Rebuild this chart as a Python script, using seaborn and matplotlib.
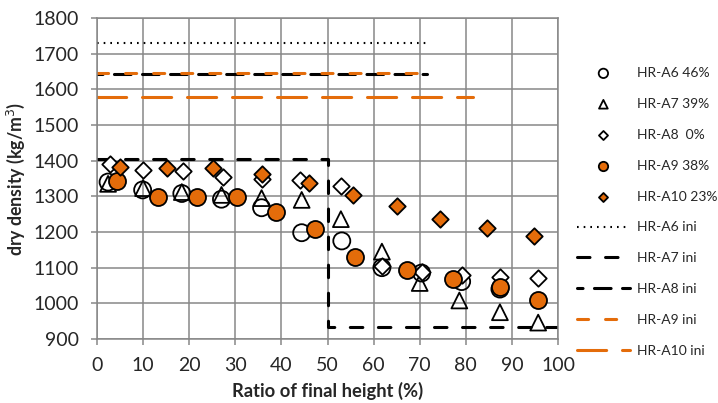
import matplotlib
matplotlib.use("Agg")
import matplotlib.pyplot as plt
import seaborn as sns
import pandas as pd

# ---- data ----
a6_x = [2.4, 9.9, 18.4, 27.0, 35.7, 44.4, 53.1, 61.8, 70.4, 79.1, 87.4]
a6_y = [1340, 1318, 1308, 1292, 1268, 1198, 1175, 1100, 1085, 1061, 1040]

a7_x = [2.4, 10.0, 18.4, 27.0, 35.7, 44.4, 52.9, 61.8, 70.0, 78.6, 87.4, 95.7]
a7_y = [1335, 1323, 1312, 1304, 1295, 1290, 1236, 1145, 1057, 1008, 975, 946]

a8_x = [2.8, 10.0, 18.7, 27.4, 35.7, 44.0, 52.9, 61.8, 70.4, 79.1, 87.4, 95.7]
a8_y = [1392, 1374, 1370, 1355, 1350, 1346, 1330, 1106, 1087, 1079, 1075, 1072]

a9_x = [4.3, 13.3, 21.6, 30.3, 38.8, 47.3, 56.0, 67.3, 77.2, 87.4, 95.7]
a9_y = [1342, 1298, 1299, 1299, 1255, 1208, 1130, 1094, 1069, 1046, 1008]

a10_x = [5.0, 15.1, 25.2, 35.7, 46.0, 55.6, 65.0, 74.3, 84.5, 94.8]
a10_y = [1382, 1379, 1379, 1364, 1337, 1304, 1273, 1237, 1210, 1190]

a6ini_x = [0, 71.5]
a6ini_y = [1730, 1730]
a7ini_x = [0, 50, 50, 100]
a7ini_y = [1405, 1405, 935, 935]
a8ini_x = [0, 71.5]
a8ini_y = [1642, 1642]
a9ini_x = [0, 71.0]
a9ini_y = [1646, 1646]
a10ini_x = [0, 81.5]
a10ini_y = [1578, 1578]

x_ticks = [0, 10, 20, 30, 40, 50, 60, 70, 80, 90, 100]
y_ticks = [900, 1000, 1100, 1200, 1300, 1400, 1500, 1600, 1700, 1800]

ORANGE = "#E46C0A"
GRID = "#878787"

sns.set_theme(style="white")
plt.rcParams["font.family"] = ["Lato", "DejaVu Sans"]
plt.rcParams["lines.scale_dashes"] = False

fig = plt.figure(figsize=(7.18, 4.03), dpi=100)
ax = fig.add_axes([97 / 718, 1 - 339 / 403, (558 - 97) / 718, (339 - 18) / 403])

# ---- lines ----
lw = 2.2
sns.lineplot(x=a6ini_x, y=a6ini_y, ax=ax, color="black", lw=1.5, sort=False, estimator=None,
             linestyle=(0, (1.2, 3.6)), label="HR-A6 ini")
sns.lineplot(x=a7ini_x, y=a7ini_y, ax=ax, color="black", lw=lw, sort=False, estimator=None,
             linestyle=(0, (9.0, 11.2)), dash_capstyle="round", label="HR-A7 ini")
sns.lineplot(x=a8ini_x, y=a8ini_y, ax=ax, color="black", lw=lw, sort=False, estimator=None,
             linestyle=(8, (12.0, 8.2)), dash_capstyle="round", label="HR-A8 ini")
sns.lineplot(x=a9ini_x, y=a9ini_y, ax=ax, color=ORANGE, lw=lw, sort=False, estimator=None,
             linestyle=(0, (8.0, 12.2)), dash_capstyle="round", label="HR-A9 ini")
sns.lineplot(x=a10ini_x, y=a10ini_y, ax=ax, color=ORANGE, lw=lw, sort=False, estimator=None,
             linestyle=(0, (21.0, 11.4)), dash_capstyle="round", label="HR-A10 ini")

# ---- markers ----
mlw = 1.3
sns.scatterplot(x=a6_x, y=a6_y, ax=ax, marker="o", s=150, facecolor="none",
                edgecolor="black", linewidth=mlw, label="HR-A6 46%", zorder=3)
sns.scatterplot(x=a7_x, y=a7_y, ax=ax, marker="^", s=130, facecolor="none",
                edgecolor="black", linewidth=mlw, label="HR-A7 39%", zorder=3)
sns.scatterplot(x=a8_x, y=a8_y, ax=ax, marker="D", s=70, facecolor="white",
                edgecolor="black", linewidth=mlw, label="HR-A8  0%", zorder=3)
sns.scatterplot(x=a9_x, y=a9_y, ax=ax, marker="o", s=150, facecolor=ORANGE,
                edgecolor="black", linewidth=mlw, label="HR-A9 38%", zorder=4)
sns.scatterplot(x=a10_x, y=a10_y, ax=ax, marker="D", s=70, facecolor=ORANGE,
                edgecolor="black", linewidth=mlw, label="HR-A10 23%", zorder=4)

# ---- axes ----
ax.set_xlim(0, 100)
ax.set_ylim(900, 1800)
ax.set_xticks(x_ticks)
ax.set_yticks(y_ticks)
ax.grid(True, color=GRID, lw=1.1, zorder=0)
ax.set_axisbelow(True)
for s in ax.spines.values():
    s.set_color(GRID)
    s.set_linewidth(1.1)
ax.tick_params(axis="both", which="both", direction="out", length=4, width=1.1,
               color=GRID, labelsize=14, labelcolor="#262626", pad=9,
               bottom=True, left=True)
ax.set_xlabel("Ratio of final height (%)", fontsize=13.2, fontweight="bold", labelpad=6)
ax.set_ylabel("dry density (kg/m$^3$)", fontsize=12.8, fontweight="bold", labelpad=5)

handles, labels = ax.get_legend_handles_labels()
order = ["HR-A6 46%", "HR-A7 39%", "HR-A8  0%", "HR-A9 38%", "HR-A10 23%",
         "HR-A6 ini", "HR-A7 ini", "HR-A8 ini", "HR-A9 ini", "HR-A10 ini"]
hmap = dict(zip(labels, handles))
ax.legend([hmap[l] for l in order], order, loc="center left",
          bbox_to_anchor=(577 / 718, 1 - 212 / 403), bbox_transform=fig.transFigure,
          frameon=False, fontsize=10, markerscale=0.55, handlelength=3.8,
          handletextpad=0.55, labelspacing=1.36, borderpad=0, borderaxespad=0)

fig.savefig("out.png", dpi=100)
